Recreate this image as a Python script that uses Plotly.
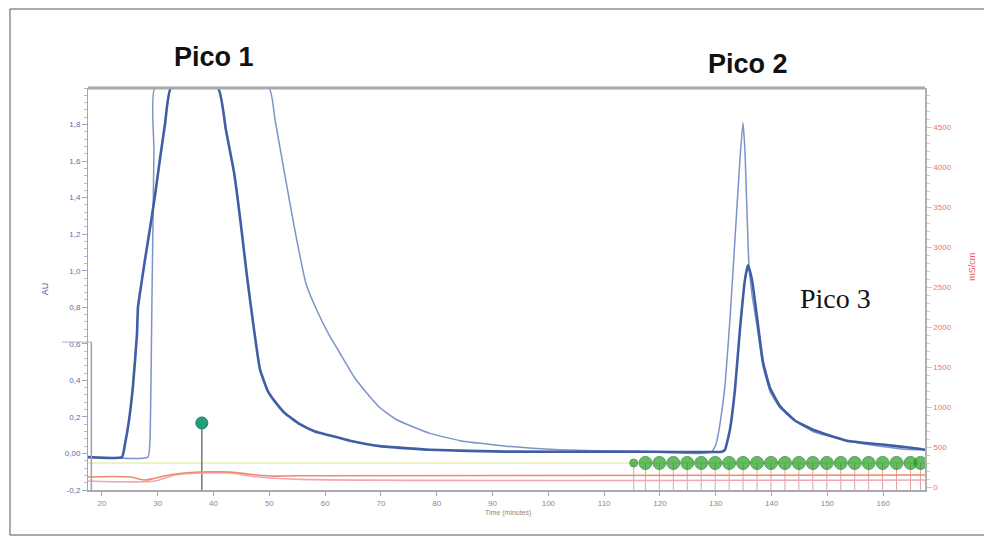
import plotly.graph_objects as go

# ---------------- data ----------------
time_ticks = [20, 30, 40, 50, 60, 70, 80, 90, 100, 110, 120, 130, 140, 150, 160]
au_ticks = [-0.2, 0.0, 0.2, 0.4, 0.6, 0.8, 1.0, 1.2, 1.4, 1.6, 1.8]
au_tick_text = ["-0,2", "0,00", "0,2", "0,4", "0,6", "0,8", "1,0", "1,2", "1,4", "1,6", "1,8"]
cond_ticks = [0, 500, 1000, 1500, 2000, 2500, 3000, 3500, 4000, 4500]

# run 1 (thick line): Pico 1 (early) and Pico 3
run1_time = [17.5, 23.58, 24.12, 24.84, 25.56, 26.27, 26.45, 26.63, 27.71, 28.60, 29.50, 30.39,
             31.29, 32.37, 40.79, 42.22, 43.66, 44.91, 45.99, 47.24, 48.32, 49.75, 51.36, 52.80,
             55.48, 58.17, 60.68, 64.44, 69.82, 78.78, 92.40, 115.16, 131.11, 131.65, 132.54,
             133.44, 134.34, 135.23, 135.77, 136.49, 137.38, 138.46, 139.71, 141.51, 144.19,
             147.42, 153.51, 159.43, 165.34, 167.49]
run1_au = [-0.02, -0.02, 0.05, 0.18, 0.37, 0.65, 0.80, 0.84, 1.06, 1.23, 1.41, 1.61,
           1.80, 2.00, 2.00, 1.77, 1.54, 1.25, 0.97, 0.68, 0.46, 0.34, 0.27, 0.22,
           0.16, 0.12, 0.10, 0.07, 0.04, 0.02, 0.01, 0.01, 0.01, 0.02, 0.13,
           0.35, 0.68, 0.95, 1.03, 0.95, 0.75, 0.50, 0.36, 0.26, 0.18,
           0.13, 0.07, 0.05, 0.03, 0.02]

# run 2 (thin line): Pico 1 (late) and Pico 2
run2_time = [17.5, 28.24, 28.60, 28.96, 29.32, 29.50, 49.93, 51.00, 52.80, 54.59, 56.56, 58.71,
             60.68, 63.01, 65.16, 67.49, 69.82, 72.51, 75.38, 78.78, 84.16, 92.40, 102.0,
             115.16, 127.17, 129.32, 130.04, 130.75, 131.65, 132.54, 133.44, 134.34, 134.87,
             135.23, 135.59, 135.95, 136.49, 137.38, 138.46, 139.71, 141.51, 144.19, 147.42,
             153.51, 159.43, 165.34, 167.49]
run2_au = [-0.02, -0.02, 0.07, 0.84, 1.66, 2.00, 2.00, 1.83, 1.52, 1.22, 0.93, 0.77,
           0.65, 0.53, 0.42, 0.33, 0.25, 0.19, 0.15, 0.11, 0.07, 0.04, 0.02,
           0.01, 0.00, 0.01, 0.05, 0.16, 0.37, 0.73, 1.17, 1.61, 1.81,
           1.66, 1.33, 1.03, 0.87, 0.70, 0.48, 0.34, 0.25, 0.18, 0.12,
           0.07, 0.04, 0.02, 0.02]

# conductivity traces (right axis)
cond1_time = [17.5, 25.0, 27.7, 29.5, 31.3, 33.1, 37.6, 42.9, 46.5, 50.1, 55.5, 167.5]
cond1_val = [125, 125, 87, 110, 140, 162, 187, 187, 160, 137, 140, 150]
cond2_time = [17.5, 29.5, 31.3, 33.1, 37.6, 42.9, 46.5, 50.1, 55.5, 167.5]
cond2_val = [75, 75, 112, 150, 175, 175, 137, 112, 95, 87]

# faint gradient trace (left axis units)
grad_time = [17.5, 167.5]
grad_au = [-0.052, -0.052]

# fraction marks and injection mark
frac_time = [115.3, 117.4, 119.9, 122.4, 124.9, 127.4, 129.9, 132.4, 134.9, 137.4, 139.9,
             142.4, 144.9, 147.4, 149.9, 152.4, 154.9, 157.4, 159.9, 162.4, 164.9, 166.7]
frac_au = -0.052
inject_time = 37.9
inject_au = 0.167

# ---------------- figure ----------------
fig = go.Figure()

fig.add_trace(go.Scatter(x=grad_time, y=grad_au, mode="lines",
                         line=dict(color="#eef2c6", width=2), hoverinfo="skip"))
fig.add_trace(go.Scatter(x=cond2_time, y=cond2_val, mode="lines", yaxis="y2",
                         line=dict(color="#f2a6b4", width=1.6, shape="spline"), hoverinfo="skip"))
fig.add_trace(go.Scatter(x=cond1_time, y=cond1_val, mode="lines", yaxis="y2",
                         line=dict(color="#f08a6a", width=1.6, shape="spline"), hoverinfo="skip"))

# fraction stems
sx, sy = [], []
for t in frac_time:
    sx += [t, t, None]
    sy += [frac_au, au_ticks[0], None]
fig.add_trace(go.Scatter(x=sx, y=sy, mode="lines",
                         line=dict(color="#e7a0a0", width=1), hoverinfo="skip"))
# injection stem
fig.add_trace(go.Scatter(x=[inject_time, inject_time], y=[inject_au, au_ticks[0]], mode="lines",
                         line=dict(color="#555555", width=1.2), hoverinfo="skip"))

fig.add_trace(go.Scatter(x=run2_time, y=run2_au, mode="lines",
                         line=dict(color="#7d93c9", width=1.5, shape="spline", smoothing=0.4),
                         hoverinfo="skip"))
fig.add_trace(go.Scatter(x=run1_time, y=run1_au, mode="lines",
                         line=dict(color="#3f5ea5", width=2.6, shape="spline", smoothing=0.4),
                         hoverinfo="skip"))

sizes = [8] + [13] * (len(frac_time) - 1)
fig.add_trace(go.Scatter(x=frac_time, y=[frac_au] * len(frac_time), mode="markers",
                         marker=dict(color="#22a022", size=sizes, line=dict(color="#137a13", width=1)),
                         hoverinfo="skip"))
fig.add_trace(go.Scatter(x=[inject_time], y=[inject_au], mode="markers",
                         marker=dict(color="#1fa07a", size=12, line=dict(color="#14806a", width=1)),
                         hoverinfo="skip"))

fig.update_layout(
    width=984, height=533,
    margin=dict(l=80, r=67, t=80, b=51),
    paper_bgcolor="white", plot_bgcolor="white",
    showlegend=False,
    font=dict(family="Liberation Sans, Arial, sans-serif"),
    xaxis=dict(range=[17.5, 167.5], tickvals=time_ticks, ticktext=[str(v) for v in time_ticks],
               showgrid=False, zeroline=False, showline=True, linecolor="#a9a9b4", linewidth=2,
               ticks="outside", ticklen=4, tickcolor="#a9a9b4",
               tickfont=dict(size=8, color="#8a8a8a")),
    yaxis=dict(range=[-0.2, 2.0], tickvals=au_ticks, ticktext=au_tick_text,
               showgrid=False, zeroline=False, showline=True, linecolor="#9aa6c4", linewidth=1,
               ticks="outside", ticklen=5, tickcolor="#9aa6c4",
               minor=dict(dtick=0.04, ticks="outside", ticklen=3, tickcolor="#b4bccf"),
               tickfont=dict(size=8, color="#4f6fb0")),
    yaxis2=dict(range=[-37.5, 4987.5], tickvals=cond_ticks, ticktext=[str(v) for v in cond_ticks],
                overlaying="y", side="right", showgrid=False, zeroline=False,
                showline=True, linecolor="#b0b0b0", linewidth=1.5,
                ticks="outside", ticklen=5, tickcolor="#c8c8c8",
                minor=dict(dtick=100, ticks="outside", ticklen=3, tickcolor="#cfcfcf"),
                tickfont=dict(size=8, color="#f07070")),
)

# frame shapes
fig.add_shape(type="line", xref="paper", yref="paper", x0=0, x1=1, y0=1, y1=1,
              line=dict(color="#a9a9a9", width=3))
fig.add_shape(type="line", xref="paper", yref="paper", x0=0.004, x1=0.004, y0=0, y1=0.368,
              line=dict(color="#a0a0a8", width=1.5))
fig.add_shape(type="line", xref="paper", yref="paper", x0=-0.031, x1=0.004, y0=0.368, y1=0.368,
              line=dict(color="#b0b0b8", width=1))
fig.add_shape(type="rect", xref="paper", yref="paper", x0=-0.0932, x1=1.0717, y0=-0.112, y1=1.1965,
              line=dict(color="#555555", width=1))

# text
fig.add_annotation(text="<b>Pico 1</b>", xref="paper", yref="paper", x=0.1505, y=1.077,
                   xanchor="center", yanchor="middle", showarrow=False,
                   font=dict(family="Liberation Sans, Arial", size=27, color="#111111"))
fig.add_annotation(text="<b>Pico 2</b>", xref="paper", yref="paper", x=0.7885, y=1.059,
                   xanchor="center", yanchor="middle", showarrow=False,
                   font=dict(family="Liberation Sans, Arial", size=27, color="#111111"))
fig.add_annotation(text="Pico 3", x=151.4, y=0.85, xanchor="center", yanchor="middle",
                   showarrow=False,
                   font=dict(family="Liberation Serif, Times New Roman, serif", size=28, color="#111111"))
fig.add_annotation(text="AU", xref="paper", yref="paper", x=-0.051, y=0.50, textangle=-90,
                   xanchor="center", yanchor="middle",
                   showarrow=False, font=dict(size=9, color="#3f5ea5"))
fig.add_annotation(text="mS/cm", xref="paper", yref="paper", x=1.056, y=0.555, textangle=-90,
                   xanchor="center", yanchor="middle",
                   showarrow=False, font=dict(size=9, color="#f05a5a"))
fig.add_annotation(text="Time (minutes)", xref="paper", yref="paper", x=0.502, y=-0.058,
                   xanchor="center", yanchor="middle",
                   showarrow=False, font=dict(size=7, color="#8a8a8a"))

fig.write_html("out.html")
